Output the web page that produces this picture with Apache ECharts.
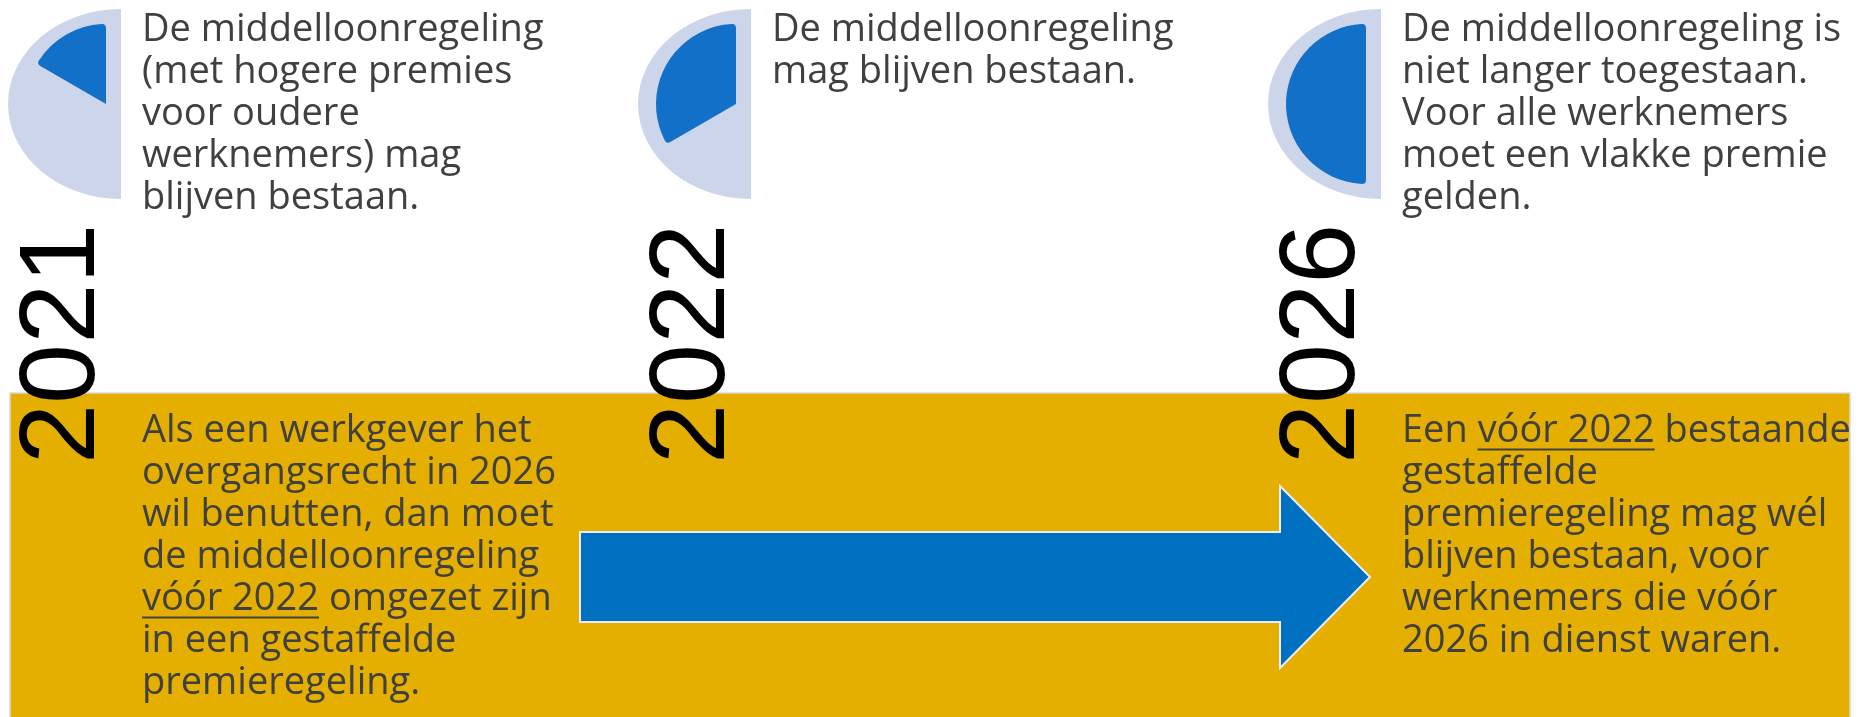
<!DOCTYPE html>
<html><head><meta charset="utf-8">
<script src="https://cdn.jsdelivr.net/npm/echarts@6/dist/echarts.min.js"></script>
<style>html,body{margin:0;padding:0;background:#fff}#c{width:1868px;height:717px}</style>
</head><body><div id="c"></div>
<script>
// ---- data ----
const years = ['2021', '2022', '2026'];
const filledShare = [1 / 3, 2 / 3, 1];   // filled share of the half-disc per year
const topTexts = [
  ['De middelloonregeling', '(met hogere premies', 'voor oudere', 'werknemers) mag', 'blijven bestaan.'],
  ['De middelloonregeling', 'mag blijven bestaan.'],
  ['De middelloonregeling is', 'niet langer toegestaan.', 'Voor alle werknemers', 'moet een vlakke premie', 'gelden.']
];
const bandLeftText = ['Als een werkgever het', 'overgangsrecht in 2026', 'wil benutten, dan moet', 'de middelloonregeling', 'vóór 2022 omgezet zijn', 'in een gestaffelde', 'premieregeling.'];
const bandRightText = ['Een vóór 2022 bestaande', 'gestaffelde', 'premieregeling mag wél', 'blijven bestaan, voor', 'werknemers die vóór', '2026 in dienst waren.'];
const underlinedPhrase = 'vóór 2022';

// ---- style / layout ----
const W = 1868, H = 717;
const BODY_FONT = '38px "Open Sans"';
const LINE_H = 42;
const YEAR_FONT = '108px "Liberation Sans"';
const TEXT_COLOR = '#404040';
const PIE_CY = 104;
const TOP_BASE = 45, BAND_BASE = 446;

const mctx = document.createElement('canvas').getContext('2d');
function midOffset(font) {
  mctx.font = font;
  const m = mctx.measureText('Hg');
  return (m.fontBoundingBoxAscent - m.fontBoundingBoxDescent) / 2;
}
function textW(font, s) { mctx.font = font; return mctx.measureText(s).width; }
const bodyMid = midOffset(BODY_FONT);
const yearMid = midOffset(YEAR_FONT);

const chart = echarts.init(document.getElementById('c'), null, { width: W, height: H });

chart.setOption({
  animation: false,
  grid: { left: 121, right: 487, top: 0, bottom: 0 },
  xAxis: { type: 'category', data: years, boundaryGap: false, show: false },
  yAxis: { type: 'value', min: 0, max: 1, show: false },
  series: [{
    type: 'custom',
    z: 5,
    data: years.map((y, i) => [i, filledShare[i]]),
    renderItem: function (params, api) {
      const i = params.dataIndex;
      const cx = api.coord([api.value(0), 0])[0];
      const share = api.value(1);
      const children = [
        { type: 'sector', x: cx, y: PIE_CY, scaleX: 113 / 95,
          shape: { cx: 0, cy: 0, r: 95, r0: 0, startAngle: Math.PI / 2, endAngle: Math.PI * 1.5, clockwise: true },
          style: { fill: '#CDD5EA' } },
        { type: 'sector',
          shape: { cx: cx - 15, cy: PIE_CY, r: 80, r0: 0, startAngle: Math.PI * 1.5 - share * Math.PI, endAngle: Math.PI * 1.5, clockwise: true, cornerRadius: 4 },
          style: { fill: '#1270C8' } },
        { type: 'text', x: cx - 19 - yearMid, y: 464, rotation: Math.PI / 2,
          style: { text: years[i], font: YEAR_FONT, fill: '#000', align: 'left', verticalAlign: 'middle' } }
      ];
      topTexts[i].forEach((line, k) => {
        children.push({ type: 'text', x: cx + 21, y: TOP_BASE + k * LINE_H - bodyMid,
          style: { text: line, font: BODY_FONT, fill: TEXT_COLOR, align: 'left', verticalAlign: 'middle' } });
      });
      return { type: 'group', children };
    }
  }]
});

// band, arrow and band texts placed relative to the category positions
const xs = years.map(y => chart.convertToPixel({ xAxisIndex: 0 }, y));
const graphics = [];
graphics.push({ type: 'rect', z: 0, shape: { x: 10, y: 393, width: 1840, height: 340 },
  style: { fill: '#E4AF00', stroke: '#D9D9D9', lineWidth: 1.5 } });
graphics.push({ type: 'polygon', z: 1,
  shape: { points: [[580, 532], [1280, 532], [1280, 486], [1370, 577], [1280, 668], [1280, 622], [580, 622]] },
  style: { fill: '#0070C0', stroke: '#E8ECF4', lineWidth: 2 } });

function addBlock(lines, x0, baseline0) {
  lines.forEach((line, k) => {
    const base = baseline0 + k * LINE_H;
    graphics.push({ type: 'text', z: 3, x: x0, y: base - bodyMid,
      style: { text: line, font: BODY_FONT, fill: TEXT_COLOR, align: 'left', verticalAlign: 'middle' } });
    const idx = line.indexOf(underlinedPhrase);
    if (idx >= 0) {
      const sx = x0 + textW(BODY_FONT, line.slice(0, idx));
      const w = textW(BODY_FONT, underlinedPhrase);
      graphics.push({ type: 'rect', z: 3, shape: { x: sx, y: base + 2.5, width: w, height: 2 },
        style: { fill: TEXT_COLOR } });
    }
  });
}
addBlock(bandLeftText, xs[0] + 21, BAND_BASE);
addBlock(bandRightText, xs[2] + 21, BAND_BASE);
chart.setOption({ graphic: graphics });
</script></body></html>
